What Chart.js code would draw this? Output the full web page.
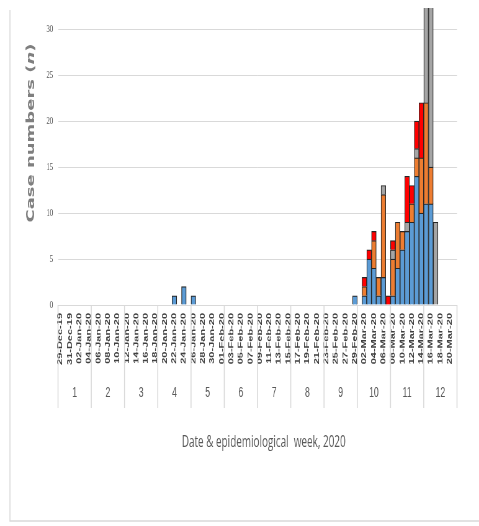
<!DOCTYPE html>
<html>
<head>
<meta charset="utf-8">
<title>Epidemic curve</title>
<script src="https://cdn.jsdelivr.net/npm/chart.js@4.4.1/dist/chart.umd.min.js"></script>
<style>
  html, body { margin: 0; padding: 0; background: #fff; overflow: hidden; }
  /* the original picture is squeezed horizontally, so draw wide and squeeze */
  #wrap { width: 772px; height: 526px; transform: scaleX(0.6205); transform-origin: 0 0; }
</style>
</head>
<body>
<div id="wrap"><canvas id="epiChart"></canvas></div>
<script>
// Days, one row per epidemiological week
const dates = [
  '29-Dec-19', '30-Dec-19', '31-Dec-19', '01-Jan-20', '02-Jan-20', '03-Jan-20', '04-Jan-20',
  '05-Jan-20', '06-Jan-20', '07-Jan-20', '08-Jan-20', '09-Jan-20', '10-Jan-20', '11-Jan-20',
  '12-Jan-20', '13-Jan-20', '14-Jan-20', '15-Jan-20', '16-Jan-20', '17-Jan-20', '18-Jan-20',
  '19-Jan-20', '20-Jan-20', '21-Jan-20', '22-Jan-20', '23-Jan-20', '24-Jan-20', '25-Jan-20',
  '26-Jan-20', '27-Jan-20', '28-Jan-20', '29-Jan-20', '30-Jan-20', '31-Jan-20', '01-Feb-20',
  '02-Feb-20', '03-Feb-20', '04-Feb-20', '05-Feb-20', '06-Feb-20', '07-Feb-20', '08-Feb-20',
  '09-Feb-20', '10-Feb-20', '11-Feb-20', '12-Feb-20', '13-Feb-20', '14-Feb-20', '15-Feb-20',
  '16-Feb-20', '17-Feb-20', '18-Feb-20', '19-Feb-20', '20-Feb-20', '21-Feb-20', '22-Feb-20',
  '23-Feb-20', '24-Feb-20', '25-Feb-20', '26-Feb-20', '27-Feb-20', '28-Feb-20', '29-Feb-20',
  '01-Mar-20', '02-Mar-20', '03-Mar-20', '04-Mar-20', '05-Mar-20', '06-Mar-20', '07-Mar-20',
  '08-Mar-20', '09-Mar-20', '10-Mar-20', '11-Mar-20', '12-Mar-20', '13-Mar-20', '14-Mar-20',
  '15-Mar-20', '16-Mar-20', '17-Mar-20', '18-Mar-20', '19-Mar-20', '20-Mar-20', '21-Mar-20'
];

const weekNumbers = [1, 2, 3, 4, 5, 6, 7, 8, 9, 10, 11, 12];
const weekStarts = [0, 7, 14, 21, 28, 35, 42, 49, 56, 63, 70, 77];

const blueCases = [
  0, 0, 0, 0, 0, 0, 0,
  0, 0, 0, 0, 0, 0, 0,
  0, 0, 0, 0, 0, 0, 0,
  0, 0, 0, 1, 0, 2, 0,
  1, 0, 0, 0, 0, 0, 0,
  0, 0, 0, 0, 0, 0, 0,
  0, 0, 0, 0, 0, 0, 0,
  0, 0, 0, 0, 0, 0, 0,
  0, 0, 0, 0, 0, 0, 1,
  0, 1, 5, 4, 1, 3, 0,
  1, 4, 6, 8, 9, 14, 10,
  11, 11, 0, 0, 0, 0, 0
];

const orangeCases = [
  0, 0, 0, 0, 0, 0, 0,
  0, 0, 0, 0, 0, 0, 0,
  0, 0, 0, 0, 0, 0, 0,
  0, 0, 0, 0, 0, 0, 0,
  0, 0, 0, 0, 0, 0, 0,
  0, 0, 0, 0, 0, 0, 0,
  0, 0, 0, 0, 0, 0, 0,
  0, 0, 0, 0, 0, 0, 0,
  0, 0, 0, 0, 0, 0, 0,
  0, 1, 0, 3, 2, 9, 0,
  4, 5, 2, 0, 2, 2, 6,
  11, 4, 0, 0, 0, 0, 0
];

const greyCases = [
  0, 0, 0, 0, 0, 0, 0,
  0, 0, 0, 0, 0, 0, 0,
  0, 0, 0, 0, 0, 0, 0,
  0, 0, 0, 0, 0, 0, 0,
  0, 0, 0, 0, 0, 0, 0,
  0, 0, 0, 0, 0, 0, 0,
  0, 0, 0, 0, 0, 0, 0,
  0, 0, 0, 0, 0, 0, 0,
  0, 0, 0, 0, 0, 0, 0,
  0, 0, 0, 0, 0, 1, 0,
  1, 0, 0, 1, 0, 1, 0,
  20, 25, 9, 0, 0, 0, 0
];

const redCases = [
  0, 0, 0, 0, 0, 0, 0,
  0, 0, 0, 0, 0, 0, 0,
  0, 0, 0, 0, 0, 0, 0,
  0, 0, 0, 0, 0, 0, 0,
  0, 0, 0, 0, 0, 0, 0,
  0, 0, 0, 0, 0, 0, 0,
  0, 0, 0, 0, 0, 0, 0,
  0, 0, 0, 0, 0, 0, 0,
  0, 0, 0, 0, 0, 0, 0,
  0, 1, 1, 1, 0, 0, 1,
  1, 0, 0, 5, 2, 3, 6,
  0, 0, 0, 0, 0, 0, 0
];

const yTicks = [0, 5, 10, 15, 20, 25, 30];

function makeSet(label, data, color) {
    return {
        label: label,
        data: data,
        backgroundColor: color,
        borderColor: '#262626',
        borderWidth: 1.2,
        barPercentage: 1,
        categoryPercentage: 1
    };
}

// Titles, week row and frame drawn on top of the chart
const extras = {
    id: 'extras',
    afterDraw(chart) {
        const ctx = chart.ctx;
        const area = chart.chartArea;
        const x = chart.scales.x;
        const step = (area.right - area.left) / dates.length;

        ctx.save();

        // chart frame
        ctx.strokeStyle = '#d9d9d9';
        ctx.lineWidth = 1.6;
        ctx.beginPath();
        ctx.moveTo(16, 10);
        ctx.lineTo(16, 521);
        ctx.lineTo(chart.width, 521);
        ctx.stroke();

        // week separators
        const bounds = weekStarts.concat([dates.length]);
        bounds.forEach(function(b) {
            const px = x.getPixelForValue(0) - step / 2 + b * step;
            ctx.beginPath();
            ctx.moveTo(px, area.bottom);
            ctx.lineTo(px, 408);
            ctx.stroke();
        });

        // week numbers
        ctx.fillStyle = '#595959';
        ctx.font = '14px "Liberation Sans Narrow", "Liberation Sans", sans-serif';
        ctx.textAlign = 'center';
        ctx.textBaseline = 'middle';
        weekNumbers.forEach(function(w, i) {
            const px = x.getPixelForValue(weekStarts[i]) - step / 2 + 3.5 * step;
            ctx.fillText(String(w), px, 393);
        });

        // x title
        ctx.fillStyle = '#595959';
        ctx.font = '16px "Open Sans", sans-serif';
        ctx.textBaseline = 'alphabetic';
        ctx.fillText('Date & epidemiological  week, 2020', 425, 447);

        // y title with italic n
        ctx.translate(50, 133);
        ctx.rotate(-Math.PI / 2);
        ctx.fillStyle = '#7f7f7f';
        ctx.textAlign = 'left';
        ctx.textBaseline = 'middle';
        const bold = 'bold 18px "DejaVu Sans", sans-serif';
        const ital = 'italic bold 18px "DejaVu Sans", sans-serif';
        const parts = [['Case numbers (', bold], ['n', ital], [')', bold]];
        let total = 0;
        parts.forEach(function(p) { ctx.font = p[1]; total += ctx.measureText(p[0]).width; });
        let pos = -total / 2;
        parts.forEach(function(p) {
            ctx.font = p[1];
            ctx.fillText(p[0], pos, 0);
            pos += ctx.measureText(p[0]).width;
        });

        ctx.restore();
    }
};

const config = {
    type: 'bar',
    data: {
        labels: dates,
        datasets: [
            makeSet('Series 1', blueCases, '#5b9bd5'),
            makeSet('Series 2', orangeCases, '#ed7d31'),
            makeSet('Series 3', greyCases, '#a5a5a5'),
            makeSet('Series 4', redCases, '#ff0000')
        ]
    },
    options: {
        responsive: true,
        maintainAspectRatio: false,
        animation: false,
        layout: {
            padding: { top: 8, right: 35.5, bottom: 0, left: 0 }
        },
        plugins: {
            legend: { display: false },
            tooltip: { enabled: false }
        },
        scales: {
            x: {
                stacked: true,
                grid: { display: false, drawTicks: false },
                border: { color: '#d9d9d9' },
                ticks: {
                    autoSkip: false,
                    minRotation: 90,
                    maxRotation: 90,
                    padding: 8,
                    color: '#404040',
                    font: { family: 'Liberation Sans', size: 11, weight: 'bold' },
                    callback: function(value, index) {
                        return index % 2 === 0 ? dates[index] : '';
                    }
                },
                afterFit: function(scale) {
                    scale.height = 221;
                    scale.paddingLeft = 0;
                    scale.paddingRight = 0;
                }
            },
            y: {
                stacked: true,
                min: 0,
                max: 32.3,
                grid: { color: '#d9d9d9', drawTicks: false },
                border: { display: false },
                ticks: {
                    stepSize: 5,
                    padding: 8,
                    color: '#595959',
                    font: { family: 'Liberation Sans Narrow', size: 10.5 }
                },
                afterBuildTicks: function(scale) {
                    scale.ticks = yTicks.map(function(v) { return { value: v }; });
                },
                afterFit: function(scale) {
                    scale.width = 93.5;
                    scale.paddingTop = 0;
                    scale.paddingBottom = 0;
                }
            }
        }
    },
    plugins: [extras]
};

new Chart(document.getElementById('epiChart').getContext('2d'), config);
</script>
</body>
</html>
